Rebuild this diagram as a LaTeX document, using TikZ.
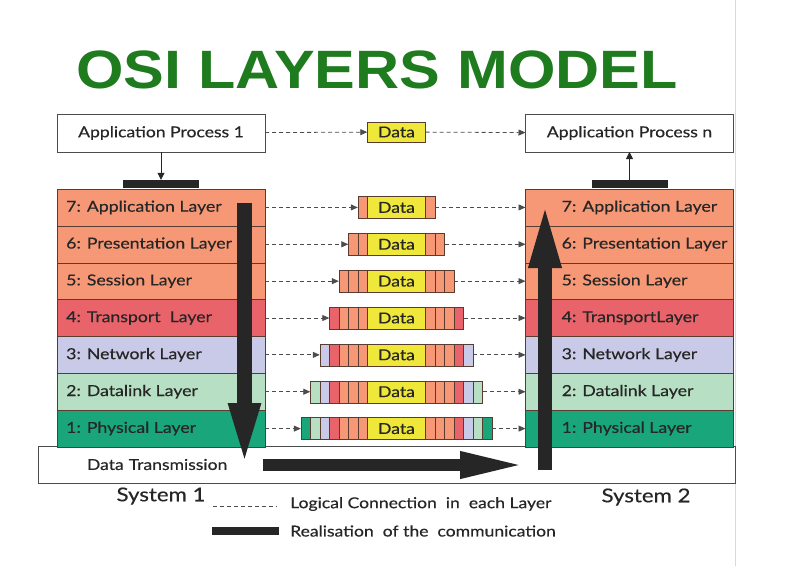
\documentclass[tikz,border=0pt]{standalone}
\usepackage{fontspec}
\setmainfont{Lato}[FakeStretch=1.17, FakeBold=0.4]
\newfontfamily\titlefont{Liberation Sans}[FakeStretch=1.13]
\usetikzlibrary{positioning,arrows.meta}

\definecolor{osigreen}{HTML}{1E7B1E}
\definecolor{laybrd}{HTML}{5A3B30}
\definecolor{dyellow}{HTML}{EFE83A}
\definecolor{c7}{HTML}{F69876}
\definecolor{c6}{HTML}{F69876}
\definecolor{c5}{HTML}{F69876}
\definecolor{c4}{HTML}{E9636A}
\definecolor{c3}{HTML}{C8CAE8}
\definecolor{c2}{HTML}{B6DFC3}
\definecolor{c1}{HTML}{19A67A}

\begin{document}
\begin{tikzpicture}
    [ x = 1pt, y = -1pt
    , proc/.style =
      { draw = black!70, fill = white, minimum width = 208pt, minimum height = 38pt
      , outer sep = 0pt, font = \fontsize{15}{17}\selectfont, text = black!85 }
    , layer/.style =
      { draw = laybrd, fill = #1, minimum width = 208pt, minimum height = 36.86pt
      , outer sep = 0pt }
    , lbl/.style =
      { font = \fontsize{15.1}{17}\selectfont, text = black!85, inner sep = 0pt }
    , bar/.style =
      { fill = black!85, minimum width = 76pt, minimum height = 8pt, inner sep = 0pt }
    , strip/.style =
      { draw = laybrd, fill = #1, minimum height = 22pt, inner sep = 0pt }
    , core/.style =
      { draw = laybrd, fill = dyellow, minimum width = 58pt, minimum height = 22pt
      , inner sep = 0pt, font = \fontsize{15}{17}\selectfont, text = black!85 }
    , logic/.style =
      { draw = black!70, line width = .8pt, dash pattern = on 4pt off 3pt
      , -{Triangle[length = 7pt, width = 6pt]} }
    , tick/.style =
      { draw = black!85, line width = .8pt, -{Triangle[length = 7pt, width = 7pt]} }
    , flow/.style =
      { draw = black!85, line width = 14pt, -{Triangle[length = 66pt, width = 29pt]} }
    , note/.style =
      { anchor = west, font = \fontsize{15}{17}\selectfont, text = black!85, inner sep = 0pt }
    , sys/.style =
      { font = \fontsize{19}{21}\selectfont, text = black!85 }
    ]
    \useasboundingbox (0,0) rectangle (787,566);
    \draw [gray!30] (735,0) -- (735,566);

    % title
    \node [anchor = base, text = osigreen, font = \titlefont\bfseries\fontsize{54}{60}\selectfont]
      (title) at (377,88) {OSI LAYERS MODEL};

    % application processes
    \node [proc] (ap1) at (161,133) {Application Process 1};
    \node [proc] (apn) at (629.5,133) {Application Process n};
    \node [core, minimum height = 20pt] (dat0) at (396.5,132) {Data};
    \draw [logic] (ap1) -- (dat0);
    \draw [logic] (dat0) -- (apn);

    % transmission medium
    \node [draw = black!70, fill = white, minimum width = 697pt, minimum height = 37pt
          , text width = 599pt, inner xsep = 49pt, align = left
          , font = \fontsize{15}{17}\selectfont, text = black!85]
      (tx) at (386.5,464.5) {Data Transmission};

    % system 1
    \node [layer = c7] (l7) at (161,207.43) {};
    \node [layer = c6] (l6) [below = 0pt of l7] {};
    \node [layer = c5] (l5) [below = 0pt of l6] {};
    \node [layer = c4] (l4) [below = 0pt of l5] {};
    \node [layer = c3] (l3) [below = 0pt of l4] {};
    \node [layer = c2] (l2) [below = 0pt of l3] {};
    \node [layer = c1] (l1) [below = 0pt of l2] {};
    \node [lbl] (lt7) [right = 9pt of l7.west] {7: Application Layer};
    \node [lbl] (lt6) [right = 9pt of l6.west] {6: Presentation Layer};
    \node [lbl] (lt5) [right = 9pt of l5.west] {5: Session Layer};
    \node [lbl] (lt4) [right = 9pt of l4.west] {4: Transport\ \ Layer};
    \node [lbl] (lt3) [right = 9pt of l3.west] {3: Network Layer};
    \node [lbl] (lt2) [right = 9pt of l2.west] {2: Datalink Layer};
    \node [lbl] (lt1) [right = 9pt of l1.west] {1: Physical Layer};

    % system 2
    \node [layer = c7] (r7) at (629.5,207.43) {};
    \node [layer = c6] (r6) [below = 0pt of r7] {};
    \node [layer = c5] (r5) [below = 0pt of r6] {};
    \node [layer = c4] (r4) [below = 0pt of r5] {};
    \node [layer = c3] (r3) [below = 0pt of r4] {};
    \node [layer = c2] (r2) [below = 0pt of r3] {};
    \node [layer = c1] (r1) [below = 0pt of r2] {};
    \node [lbl] (rt7) [right = 36pt of r7.west] {7: Application Layer};
    \node [lbl] (rt6) [right = 36pt of r6.west] {6: Presentation Layer};
    \node [lbl] (rt5) [right = 36pt of r5.west] {5: Session Layer};
    \node [lbl] (rt4) [right = 36pt of r4.west] {4: TransportLayer};
    \node [lbl] (rt3) [right = 36pt of r3.west] {3: Network Layer};
    \node [lbl] (rt2) [right = 36pt of r2.west] {2: Datalink Layer};
    \node [lbl] (rt1) [right = 36pt of r1.west] {1: Physical Layer};

    \node [bar] (bar1) at (161,184) {};
    \node [bar] (barn) at (629.5,184) {};
    \draw [tick] (ap1) -- (bar1);
    \draw [tick] (barn) -- (apn);

    % packets, one header more per layer
    \foreach \k in {7,...,1}
    {
      \foreach \j in {\k,...,7}
        \node [strip = c\j, minimum width = {58pt+19pt*(8-\j)}] (s\k-\j) at (l\k -| dat0) {};
      \node [core] (d\k) at (l\k -| dat0) {Data};
      \draw [logic] (l\k) -- (s\k-\k);
      \draw [logic] (s\k-\k) -- (r\k);
    }

    % realisation of the communication
    \coordinate (dnA) at (244.5,203);
    \coordinate (dnB) at (244.5,469);
    \coordinate (acA) at (263,465);
    \coordinate (acB) at (527,465);
    \coordinate (upA) at (545,470);
    \coordinate (upB) at (545,202);
    \draw [flow, line width = 15pt, -{Triangle[length = 66pt, width = 28pt]}] (dnA) -- (dnB);
    \draw [flow, line width = 12pt, -{Triangle[length = 67pt, width = 24pt]}] (acA) -- (acB);
    \draw [flow] (upA) -- (upB);

    % legend
    \node [sys] (sys1) at (161,496) {System 1};
    \node [sys] (sys2) at (646,497) {System 2};
    \coordinate (lgA) at (213,506);
    \coordinate (lgB) at (277,506);
    \coordinate (lgC) at (212,531);
    \coordinate (lgD) at (279,531);
    \draw [black!70, line width = .8pt, dash pattern = on 4pt off 3pt] (lgA) -- (lgB);
    \draw [black!85, line width = 8pt] (lgC) -- (lgD);
    \node [note] (lg1) at (290,504) {Logical Connection\ \ in\ \ each Layer};
    \node [note] (lg2) at (290,531) {Realisation\ \ of the\ \ communication};
\end{tikzpicture}
\end{document}
